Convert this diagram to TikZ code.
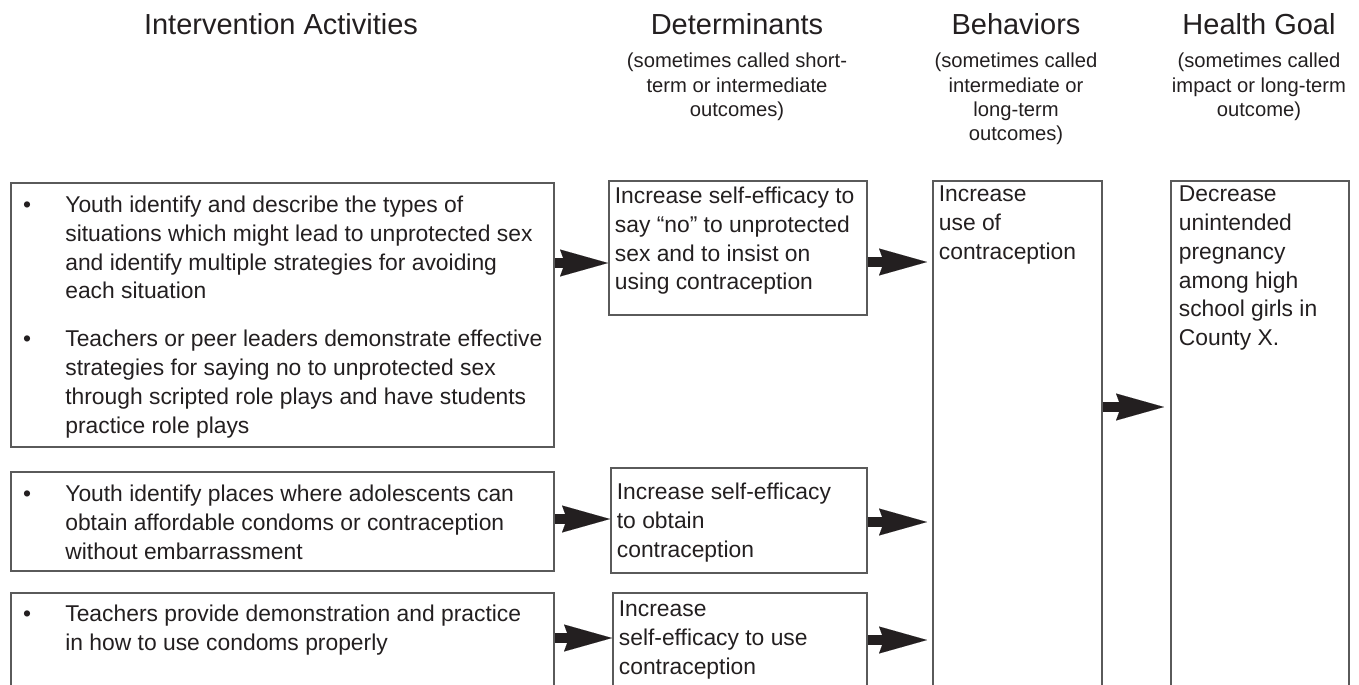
\documentclass[tikz,border=0pt]{standalone}
\usepackage{fontspec}
\setmainfont{Liberation Sans}
\usepackage{tikz}
\usetikzlibrary{arrows.meta,positioning}

\definecolor{ink}{HTML}{231F20}
\definecolor{rule}{HTML}{5A5A5A}

\newcommand{\headfont}{\fontsize{16.5pt}{19pt}\selectfont}
\newcommand{\subfont}{\fontsize{11.5pt}{13.9pt}\selectfont}
\newcommand{\cellfont}{\fontsize{13pt}{16.4pt}\selectfont}
% width, height, top skip, text
\newcommand{\celltext}[4]{\parbox[t][#2][t]{#1}{\raggedright\vspace*{#3}#4}}
\newenvironment{actlist}{\begin{list}{\textbullet}{%
    \setlength\topsep{0pt}\setlength\partopsep{0pt}%
    \setlength\parsep{0pt}\setlength\itemsep{10.8pt}%
    \setlength\leftmargin{31pt}\setlength\labelwidth{26pt}%
    \setlength\labelsep{0pt}\setlength\rightmargin{0pt}%
    \renewcommand\makelabel[1]{\hspace*{2pt}##1\hfil}}}{\end{list}}

\begin{document}
\begin{tikzpicture}[x=0.02cm,y=-0.02cm,
    head/.style={font=\headfont,text=ink,inner sep=0pt,anchor=base},
    sub/.style={font=\subfont,text=ink,inner sep=0pt,align=center},
    cell/.style={draw=rule,line width=1pt,anchor=north west,inner ysep=0pt,
      inner xsep=#1,font=\cellfont,text=ink},
    cell/.default=0.12cm,
    flow/.style={draw=ink,line width=0.2cm,
      -{Stealth[length=0.96cm,width=0.54cm,inset=0.1cm,line width=0.01pt]}}]
    \useasboundingbox (0,0) rectangle (1359,684);
    \clip (0,0) rectangle (1359,684);

    % column heads
    \node[head] (hAct) at (281,34) {Intervention Activities};
    \node[head] (hDet) at (737,34) {Determinants};
    \node[head] (hBeh) at (1016,34) {Behaviors};
    \node[head] (hGoal) at (1259,34) {Health Goal};
    \node[sub] (sDet) [below=0.36cm of hDet] {(sometimes called short-\\term or intermediate\\outcomes)};
    \node[sub] (sBeh) [below=0.36cm of hBeh] {(sometimes called\\intermediate or\\long-term\\outcomes)};
    \node[sub] (sGoal) [below=0.36cm of hGoal] {(sometimes called\\impact or long-term\\outcome)};

    % activities
    \node[cell=0pt] (act1) at (10,182) {\celltext{10.86cm}{5.28cm}{0.26cm}{\begin{actlist}
        \item Youth identify and describe the types of\\situations which might lead to unprotected sex\\and identify multiple strategies for avoiding\\each situation
        \item Teachers or peer leaders demonstrate effective\\strategies for saying no to unprotected sex\\through scripted role plays and have students\\practice role plays
      \end{actlist}}};
    \node[cell=0pt] (act2) at (10,471) {\celltext{10.86cm}{1.98cm}{0.26cm}{\begin{actlist}
        \item Youth identify places where adolescents can\\obtain affordable condoms or contraception\\without embarrassment
      \end{actlist}}};
    \node[cell=0pt] (act3) at (10,592) {\celltext{10.86cm}{2.2cm}{0.24cm}{\begin{actlist}
        \item Teachers provide demonstration and practice\\in how to use condoms properly
      \end{actlist}}};

    % determinants
    \node[cell] (det1) at (608,180) {\celltext{4.92cm}{2.68cm}{0.12cm}{Increase self-efficacy to\\say “no” to unprotected\\sex and to insist on\\using contraception}};
    \node[cell] (det2) at (610,467) {\celltext{4.88cm}{2.1cm}{0.3cm}{Increase self-efficacy\\to obtain\\contraception}};
    \node[cell] (det3) at (612,592) {\celltext{4.84cm}{2.2cm}{0.16cm}{Increase\\self-efficacy to use\\contraception}};

    % behaviors and goal
    \node[cell] (beh) at (932,180) {\celltext{3.14cm}{10.4cm}{0.1cm}{Increase\\use of\\contraception}};
    \node[cell=0.16cm] (goal) at (1170,180) {\celltext{3.24cm}{10.4cm}{0.1cm}{Decrease\\unintended\\pregnancy\\among high\\school girls in\\County X.}};

    % arrows
    \draw[flow] (act1.east |- 0,263) -- (det1.west |- 0,263);
    \draw[flow] (act2.east |- 0,519) -- (det2.west |- 0,519);
    \draw[flow] (act3.east |- 0,638) -- (det3.west |- 0,638);
    \draw[flow,shorten >=0.1cm] (det1.east |- 0,262) -- (beh.west |- 0,262);
    \draw[flow,shorten >=0.1cm] (det2.east |- 0,522) -- (beh.west |- 0,522);
    \draw[flow,shorten >=0.1cm] (det3.east |- 0,640) -- (beh.west |- 0,640);
    \draw[flow,shorten >=0.12cm] (beh.east |- 0,407) -- (goal.west |- 0,407);
\end{tikzpicture}
\end{document}
